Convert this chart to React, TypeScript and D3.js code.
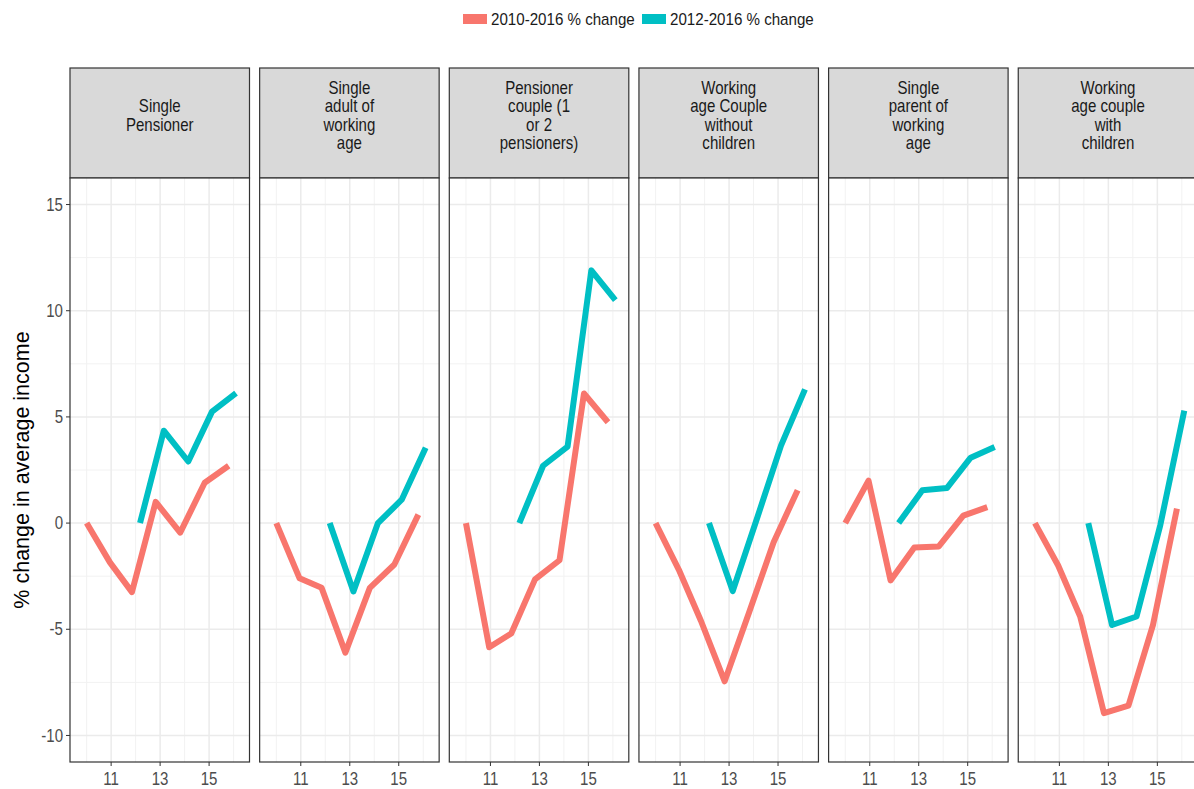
import React, { useEffect, useRef } from "react";
import * as d3 from "d3";

// facet titles (one entry per line)
const panelTitles = [
  ["Single", "Pensioner"],
  ["Single", "adult of", "working", "age"],
  ["Pensioner", "couple (1", "or 2", "pensioners)"],
  ["Working", "age Couple", "without", "children"],
  ["Single", "parent of", "working", "age"],
  ["Working", "age couple", "with", "children"],
];

const seriesNames = ["2010-2016 % change", "2012-2016 % change"];
const seriesColors = ["#F8766D", "#00BFC4"];

// x positions
const years2010 = [10, 10.95, 11.85, 12.82, 13.82, 14.82, 15.8];
const years2012 = [12.18, 13.15, 14.15, 15.12, 16.1];

const change2010 = [
  [0, -1.85, -3.25, 1.0, -0.45, 1.9, 2.7],
  [0, -2.6, -3.05, -6.1, -3.05, -1.95, 0.4],
  [0, -5.85, -5.2, -2.65, -1.75, 6.1, 4.75],
  [0, -2.2, -4.6, -7.45, -4.2, -0.9, 1.55],
  [0, 2.0, -2.7, -1.15, -1.1, 0.35, 0.75],
  [0, -2.0, -4.4, -8.95, -8.6, -4.8, 0.68],
];
const change2012 = [
  [0, 4.35, 2.9, 5.25, 6.12],
  [0, -3.22, 0, 1.1, 3.55],
  [0, 2.7, 3.6, 11.9, 10.5],
  [0, -3.2, 0.25, 3.65, 6.3],
  [0, 1.55, 1.65, 3.08, 3.58],
  [0, -4.8, -4.4, -0.1, 5.3],
];

const yMajor = [-10, -5, 0, 5, 10, 15];
const yMinor = [-7.5, -2.5, 2.5, 7.5, 12.5];
const xMajor = [11, 13, 15];
const xMinor = [10, 12, 14, 16];

const FONT = "'Liberation Sans', Arial, sans-serif";

const App = () => {
  const ref = useRef<SVGSVGElement>(null);
  const width = 1194;
  const height = 789;

  useEffect(() => {
    const svg = d3.select(ref.current);
    svg.selectAll("*").remove();

    const stripTop = 68;
    const panelTop = 178;
    const panelBottom = 762;
    const panelW = 179.5;
    const panelStep = 189.65;
    const firstLeft = 70;

    const y = d3.scaleLinear().domain([-11.25, 16.25]).range([panelBottom, panelTop]);

    const addText = (parent, x, yy, str, size, anchor, color, sx = 0.86) =>
      parent
        .append("text")
        .attr("transform", `translate(${x},${yy}) scale(${sx},1)`)
        .attr("text-anchor", anchor)
        .attr("dy", "0.35em")
        .style("font-family", FONT)
        .style("font-size", size + "px")
        .style("fill", color)
        .text(str);

    // legend
    const legendX = [463, 642];
    seriesNames.forEach((name, i) => {
      svg.append("rect")
        .attr("x", legendX[i]).attr("y", 14)
        .attr("width", 24).attr("height", 10)
        .attr("fill", seriesColors[i]);
      addText(svg, legendX[i] + 28, 19, name, 17, "start", "#1A1A1A", 0.89);
    });

    panelTitles.forEach((title, p) => {
      const left = firstLeft + p * panelStep;
      const x = d3.scaleLinear().domain([9.32, 16.65]).range([left, left + panelW]);
      const g = svg.append("g");

      // strip
      g.append("rect")
        .attr("x", left).attr("y", stripTop)
        .attr("width", panelW).attr("height", panelTop - stripTop)
        .attr("fill", "#D9D9D9").attr("stroke", "#333").attr("stroke-width", 1.2);
      const lh = 18.5;
      title.forEach((line, i) => {
        addText(g, left + panelW / 2, 115.5 + (i - (title.length - 1) / 2) * lh, line, 17.5, "middle", "#1A1A1A");
      });

      // panel background + grid
      g.append("rect")
        .attr("x", left).attr("y", panelTop)
        .attr("width", panelW).attr("height", panelBottom - panelTop)
        .attr("fill", "#fff");
      yMinor.forEach((v) =>
        g.append("line").attr("x1", left).attr("x2", left + panelW)
          .attr("y1", y(v)).attr("y2", y(v))
          .attr("stroke", "#F2F2F2").attr("stroke-width", 1));
      xMinor.forEach((v) =>
        g.append("line").attr("y1", panelTop).attr("y2", panelBottom)
          .attr("x1", x(v)).attr("x2", x(v))
          .attr("stroke", "#F2F2F2").attr("stroke-width", 1));
      yMajor.forEach((v) =>
        g.append("line").attr("x1", left).attr("x2", left + panelW)
          .attr("y1", y(v)).attr("y2", y(v))
          .attr("stroke", "#EBEBEB").attr("stroke-width", 1.5));
      xMajor.forEach((v) =>
        g.append("line").attr("y1", panelTop).attr("y2", panelBottom)
          .attr("x1", x(v)).attr("x2", x(v))
          .attr("stroke", "#EBEBEB").attr("stroke-width", 1.5));

      // lines
      const line = d3.line<[number, number]>().x((d) => x(d[0])).y((d) => y(d[1]));
      const drawSeries = (xs, vals, color) =>
        g.append("path")
          .attr("d", line(xs.map((xv, i) => [xv, vals[i]])))
          .attr("fill", "none")
          .attr("stroke", color)
          .attr("stroke-width", 6)
          .attr("stroke-linejoin", "round")
          .attr("stroke-linecap", "butt");
      drawSeries(years2010, change2010[p], seriesColors[0]);
      drawSeries(years2012, change2012[p], seriesColors[1]);

      // border
      g.append("rect")
        .attr("x", left).attr("y", panelTop)
        .attr("width", panelW).attr("height", panelBottom - panelTop)
        .attr("fill", "none").attr("stroke", "#333").attr("stroke-width", 1.2);

      // x axis
      xMajor.forEach((v) => {
        g.append("line").attr("x1", x(v)).attr("x2", x(v))
          .attr("y1", panelBottom).attr("y2", panelBottom + 4)
          .attr("stroke", "#333").attr("stroke-width", 1);
        addText(g, x(v), 779, String(v), 17.5, "middle", "#4D4D4D");
      });

      // y axis on first panel only
      if (p === 0) {
        yMajor.forEach((v) => {
          g.append("line").attr("x1", left - 4).attr("x2", left)
            .attr("y1", y(v)).attr("y2", y(v))
            .attr("stroke", "#333").attr("stroke-width", 1);
          addText(g, left - 7, y(v), String(v), 17.5, "end", "#4D4D4D");
        });
      }
    });

    // y title
    svg.append("text")
      .attr("transform", `translate(29,${(panelTop + panelBottom) / 2}) rotate(-90)`)
      .attr("text-anchor", "middle")
      .style("font-family", FONT)
      .style("font-size", "21.5px")
      .style("fill", "#000")
      .text("% change in average income");
  }, []);

  return (
    <svg
      ref={ref}
      width={width}
      height={height}
      style={{ position: "absolute", left: 0, top: 0, background: "#fff" }}
    ></svg>
  );
};

export default App;
